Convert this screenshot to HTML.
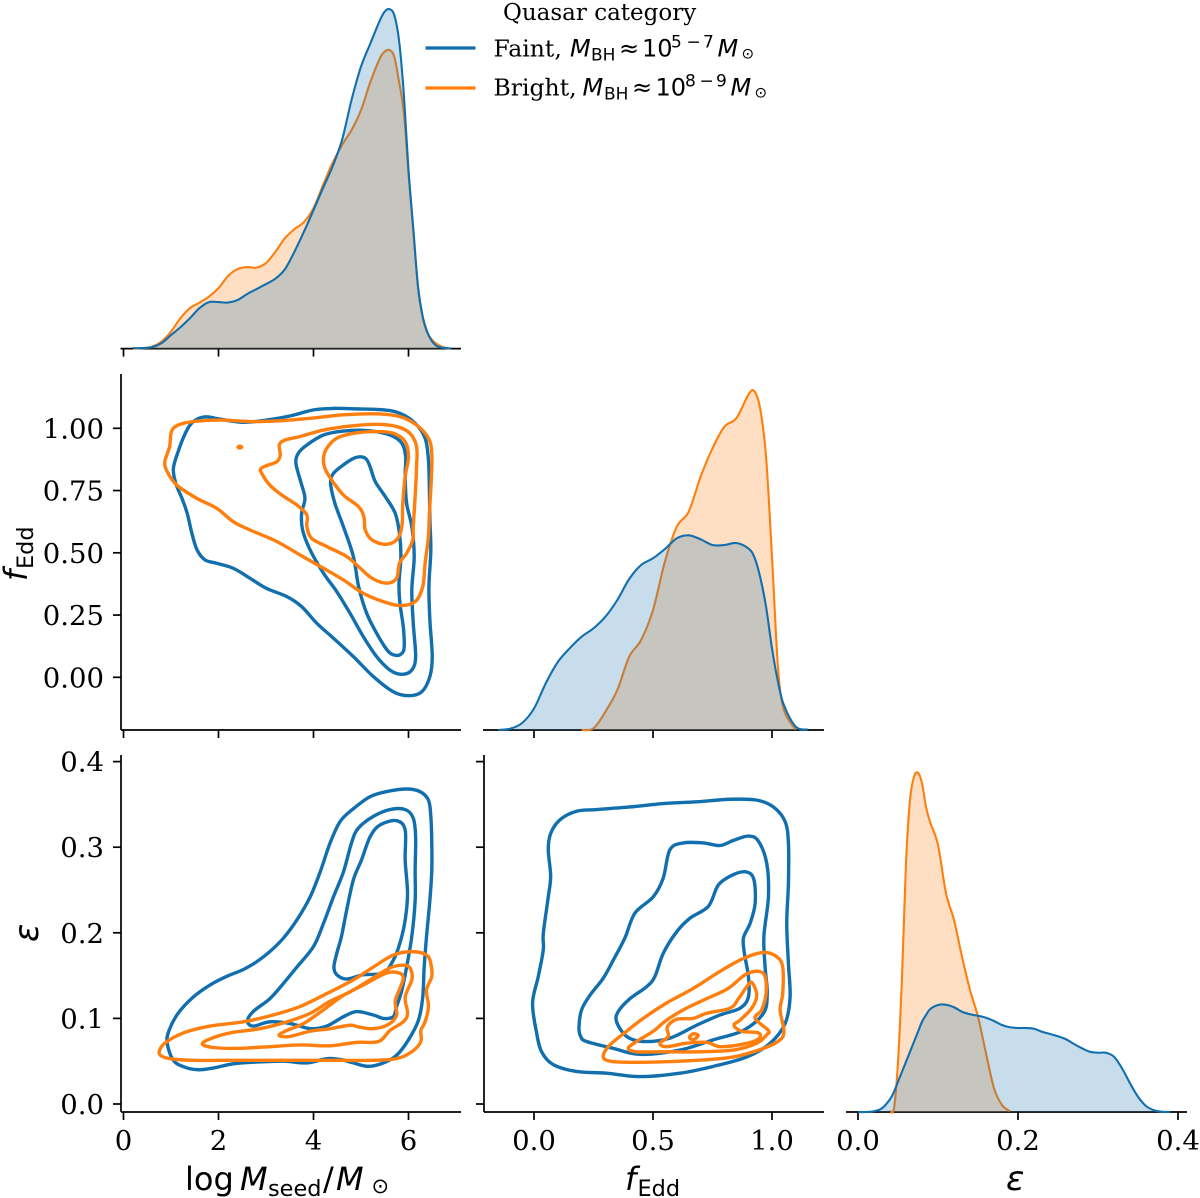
<!DOCTYPE html>
<html lang="en">
<head>
<meta charset="utf-8">
<title>Quasar category pair plot</title>
<style>
html,body{margin:0;padding:0;background:#fff;width:1200px;height:1198px;overflow:hidden}
svg{display:block}
.tick{font-family:"DejaVu Serif","Liberation Serif",serif;font-size:27.5px;fill:#000}
.leg{font-family:"DejaVu Serif","Liberation Serif",serif;font-size:23px;fill:#000}
.leg2{font-family:"DejaVu Serif","Liberation Serif",serif;font-size:23.5px;fill:#000}
.m{font-family:"DejaVu Sans","Liberation Sans",sans-serif;fill:#000}
.i{font-style:italic}
</style>
</head>
<body>
<svg id="chart" xmlns="http://www.w3.org/2000/svg" width="1200" height="1198" viewBox="0 0 1200 1198">
  <g id="marks"></g>

  <g>
    <text class="leg" x="503" y="20">Quasar category</text>
    <line x1="425.5" x2="475.5" y1="48" y2="48" stroke="#126fae" stroke-width="3.2"/>
    <text class="leg2" x="493.5" y="56.5">Faint,</text>
    <text class="m" y="56.5" font-size="24"><tspan class="i" x="570">M</tspan><tspan font-size="17" x="591" dy="4">BH</tspan><tspan x="619" dy="-4">≈</tspan><tspan x="642">10</tspan><tspan font-size="17" x="671" dy="-9">5</tspan><tspan font-size="17" x="686.5">−</tspan><tspan font-size="17" x="703">7</tspan><tspan class="i" x="717.5" dy="9">M</tspan><tspan font-size="15" x="741.5" dy="2">⊙</tspan></text>
    <line x1="425.5" x2="475.5" y1="88" y2="88" stroke="#ff7f0e" stroke-width="3.2"/>
    <text class="leg2" x="493.5" y="95.5">Bright,</text>
    <text class="m" y="95.5" font-size="24"><tspan class="i" x="582.5">M</tspan><tspan font-size="17" x="604" dy="4">BH</tspan><tspan x="632" dy="-4">≈</tspan><tspan x="655.5">10</tspan><tspan font-size="17" x="685" dy="-9">8</tspan><tspan font-size="17" x="699.5">−</tspan><tspan font-size="17" x="716">9</tspan><tspan class="i" x="730.5" dy="9">M</tspan><tspan font-size="15" x="754.5" dy="2">⊙</tspan></text>
  </g>

  <text class="m" y="1190" font-size="32"><tspan x="185">log</tspan><tspan class="i" x="240">M</tspan><tspan font-size="22.4" x="268" dy="6">seed</tspan><tspan x="323" dy="-6">/</tspan><tspan class="i" x="336">M</tspan><tspan font-size="21" x="371.5" dy="3">⊙</tspan></text>
  <text class="m" y="1190" font-size="32"><tspan class="i" x="625">f</tspan><tspan font-size="22.4" x="637.5" dy="6">Edd</tspan></text>
  <text class="m i" x="1006" y="1190" font-size="34">ε</text>
  <text class="m" transform="translate(27,581) rotate(-90)" font-size="32"><tspan class="i" x="0">f</tspan><tspan font-size="22.4" x="12" dy="6">Edd</tspan></text>
  <text class="m i" transform="translate(38,942) rotate(-90)" font-size="34">ε</text>
</svg>

<script>
/* ---------- tick labels ---------- */
const logMTicks = [0, 2, 4, 6];
const feddXTicks = [0, 0.5, 1];
const epsXTicks = [0, 0.2, 0.4];
const feddYTicks = [0, 0.25, 0.5, 0.75, 1];
const epsYTicks = [0, 0.1, 0.2, 0.3, 0.4];
const logMTickLabels = ['0', '2', '4', '6'];
const feddXTickLabels = ['0.0', '0.5', '1.0'];
const epsXTickLabels = ['0.0', '0.2', '0.4'];
const feddYTickLabels = ['0.00', '0.25', '0.50', '0.75', '1.00'];
const epsYTickLabels = ['0.0', '0.1', '0.2', '0.3', '0.4'];

/* ---------- 1-D densities ---------- */
const logMGrid = [0.2,0.4,0.6,0.8,1.0,1.2,1.4,1.6,1.8,2.0,2.2,2.4,2.6,2.8,3.0,3.2,3.4,3.6,3.8,4.0,4.2,4.4,4.6,4.8,5.0,5.2,5.4,5.5,5.6,5.7,5.8,5.9,6.0,6.1,6.2,6.3,6.4,6.5,6.6,6.7,6.8,6.9];
const logMFaint = [.001,.001,.003,.011,.027,.043,.061,.081,.093,.093,.092,.097,.109,.119,.129,.140,.159,.194,.234,.277,.321,.364,.417,.497,.564,.611,.657,.674,.679,.667,.617,.511,.357,.241,.124,.064,.032,.014,.005,.002,.001,0];
const logMBright = [0,.001,.004,.014,.034,.061,.081,.092,.104,.121,.145,.159,.163,.162,.171,.194,.221,.239,.253,.281,.327,.371,.407,.437,.477,.534,.581,.594,.597,.584,.534,.474,.351,.237,.124,.061,.031,.017,.009,.004,.001,0];

const feddGrid = [-.15,-.1,-.05,0,.05,.1,.15,.2,.25,.3,.35,.4,.45,.5,.55,.6,.65,.7,.75,.8,.85,.9,.925,.95,.975,1,1.025,1.05,1.1,1.15];
const feddFaint = [0,.013,.07,.215,.47,.68,.817,.933,1.017,1.133,1.300,1.510,1.650,1.717,1.810,1.917,1.947,1.907,1.850,1.850,1.870,1.817,1.733,1.533,1.233,.817,.483,.250,.033,.003];
const feddBright = [null,null,null,null,null,null,null,0,.017,.183,.400,.733,.900,1.200,1.683,2.033,2.183,2.533,2.817,3.033,3.117,3.350,3.390,3.217,2.733,1.733,.633,.200,.003,null];

const epsGrid = [0,.01,.02,.03,.04,.045,.05,.055,.06,.065,.07,.075,.08,.085,.09,.10,.11,.12,.13,.14,.15,.16,.17,.18,.19,.20,.21,.22,.23,.24,.25,.26,.27,.28,.29,.30,.31,.32,.33,.34,.35,.36,.37,.38,.39];
const epsFaint = [0,0,.03,.15,.51,.81,1.21,1.61,2.01,2.41,2.81,3.21,3.61,3.88,4.11,4.28,4.29,4.19,4.01,3.91,3.85,3.77,3.64,3.48,3.39,3.36,3.36,3.33,3.21,3.12,3.03,2.91,2.72,2.55,2.41,2.37,2.37,2.21,1.75,1.15,.61,.24,.07,.01,0];
const epsBright = [null,null,null,null,.03,.15,2.01,5.41,9.95,12.48,13.41,13.57,13.15,12.21,11.61,10.68,8.75,7.68,6.21,4.88,3.81,2.35,.95,.28,.03,null,null,null,null,null,null,null,null,null,null,null,null,null,null,null,null,null,null,null,null];

/* ---------- 2-D contours: f_Edd vs log M_seed ---------- */
const feddLogMFaint1 = [[1.40,1.013],[1.55,1.037],[1.75,1.046],[2.03,1.037],[2.52,1.024],[3.01,1.033],[3.54,1.051],[4.00,1.074],[4.42,1.080],[4.91,1.078],[5.47,1.074],[5.82,1.060],[6.14,1.020],[6.35,.960],[6.42,.873],[6.44,.752],[6.45,.632],[6.47,.511],[6.43,.364],[6.45,.230],[6.50,.083],[6.45,.003],[6.28,-.058],[6.00,-.074],[5.68,-.058],[5.26,.003],[4.84,.083],[4.42,.157],[4.07,.217],[3.75,.284],[3.44,.324],[3.01,.357],[2.66,.398],[2.31,.438],[1.96,.458],[1.72,.471],[1.55,.511],[1.44,.578],[1.34,.659],[1.23,.719],[1.10,.779],[1.05,.839],[1.15,.906],[1.27,.967]];
const feddLogMFaint2 = [[3.63,.859],[3.68,.900],[3.86,.933],[4.21,.973],[4.63,.989],[5.12,.991],[5.61,.973],[5.86,.940],[5.94,.886],[5.93,.806],[5.96,.699],[6.07,.605],[6.12,.485],[6.07,.351],[6.10,.217],[6.15,.083],[6.07,.029],[5.86,.012],[5.61,.029],[5.33,.083],[5.05,.163],[4.77,.257],[4.49,.344],[4.21,.418],[3.93,.511],[3.77,.592],[3.75,.659],[3.82,.719],[3.73,.786]];
const feddLogMFaint3 = [[4.36,.779],[4.42,.819],[4.63,.853],[4.88,.882],[5.09,.880],[5.19,.846],[5.30,.786],[5.51,.726],[5.72,.659],[5.81,.578],[5.84,.485],[5.80,.378],[5.82,.297],[5.89,.203],[5.91,.123],[5.86,.096],[5.74,.088],[5.58,.103],[5.37,.163],[5.12,.257],[4.95,.364],[4.84,.485],[4.63,.605],[4.45,.699]];
const feddLogMBright1 = [[.87,.866],[.97,.926],[1.01,.987],[1.15,1.013],[1.47,1.027],[2.03,1.033],[2.73,1.027],[3.37,1.031],[3.93,1.040],[4.63,1.054],[5.33,1.058],[5.82,1.047],[6.17,1.013],[6.42,.960],[6.49,.900],[6.48,.793],[6.44,.659],[6.42,.565],[6.35,.458],[6.30,.364],[6.14,.304],[5.82,.288],[5.47,.304],[5.05,.337],[4.63,.391],[4.21,.438],[3.72,.491],[3.23,.545],[2.66,.592],[2.31,.625],[1.96,.679],[1.54,.719],[1.12,.772],[.92,.826]];
const feddLogMBrightDot = [[2.41,.9245],[2.45,.928],[2.49,.9245],[2.45,.921]];
const feddLogMBright2 = [[2.89,.837],[3.01,.850],[3.23,.866],[3.30,.893],[3.28,.933],[3.40,.953],[3.72,.967],[4.21,.993],[4.77,1.009],[5.33,1.016],[5.75,1.007],[6.03,.980],[6.17,.926],[6.17,.846],[6.14,.726],[6.10,.605],[6.09,.552],[5.96,.498],[5.81,.458],[5.75,.398],[5.54,.378],[5.23,.398],[4.95,.444],[4.70,.485],[4.28,.525],[3.96,.558],[3.86,.605],[3.86,.652],[3.65,.692],[3.33,.732],[3.08,.772],[2.91,.819]];
const feddLogMBright3 = [[4.21,.880],[4.28,.920],[4.49,.960],[4.84,.980],[5.33,.987],[5.68,.980],[5.93,.946],[6.00,.886],[5.93,.806],[5.88,.699],[5.86,.605],[5.75,.552],[5.51,.534],[5.23,.552],[5.09,.592],[5.06,.645],[4.95,.685],[4.63,.732],[4.38,.793],[4.24,.839]];

/* ---------- 2-D contours: epsilon vs log M_seed ---------- */
const epsLogMFaint1 = [[.92,.071],[.96,.086],[1.15,.106],[1.47,.125],[1.82,.139],[2.17,.149],[2.52,.157],[2.80,.166],[3.08,.178],[3.37,.194],[3.65,.215],[3.93,.242],[4.14,.271],[4.35,.305],[4.56,.330],[4.84,.345],[5.19,.359],[5.54,.365],[5.96,.368],[6.24,.365],[6.42,.355],[6.47,.336],[6.49,.305],[6.49,.273],[6.45,.238],[6.38,.196],[6.33,.160],[6.30,.125],[6.21,.098],[6.00,.075],[5.75,.057],[5.47,.048],[5.15,.044],[4.84,.048],[4.56,.052],[4.28,.053],[3.86,.048],[3.37,.050],[2.80,.049],[2.31,.047],[1.89,.042],[1.58,.040],[1.29,.043],[1.05,.051]];
const epsLogMFaint2 = [[2.61,.097],[2.73,.108],[3.08,.123],[3.37,.141],[3.65,.160],[4.00,.184],[4.21,.211],[4.42,.242],[4.63,.271],[4.80,.305],[4.94,.322],[5.26,.336],[5.61,.344],[5.93,.344],[6.10,.334],[6.15,.312],[6.14,.273],[6.14,.238],[6.07,.196],[5.96,.160],[5.86,.133],[5.75,.114],[5.68,.102],[5.47,.100],[5.26,.104],[4.91,.108],[4.63,.102],[4.28,.091],[3.93,.088],[3.51,.094],[3.08,.096],[2.73,.091]];
const epsLogMFaint3 = [[4.43,.160],[4.49,.176],[4.59,.196],[4.70,.227],[4.84,.262],[5.01,.285],[5.19,.312],[5.40,.326],[5.75,.331],[5.93,.320],[5.93,.285],[5.98,.246],[5.93,.215],[5.82,.188],[5.68,.168],[5.47,.153],[5.05,.151],[4.70,.146],[4.49,.151]];
const epsLogMBright1 = [[.75,.061],[.87,.071],[1.26,.083],[1.82,.091],[2.52,.096],[3.15,.104],[3.72,.114],[4.28,.129],[4.84,.145],[5.26,.160],[5.68,.174],[6.07,.178],[6.38,.174],[6.47,.164],[6.49,.149],[6.38,.133],[6.42,.114],[6.35,.096],[6.26,.086],[6.26,.073],[6.07,.061],[5.75,.053],[5.26,.051],[4.63,.051],[4.07,.051],[3.44,.051],[2.80,.051],[2.10,.051],[1.47,.051],[.98,.053],[.80,.056]];
const epsLogMBright2 = [[1.66,.070],[1.82,.076],[2.24,.083],[2.87,.088],[3.44,.096],[3.93,.106],[4.35,.120],[4.77,.131],[5.19,.145],[5.61,.159],[5.93,.162],[6.05,.157],[6.07,.145],[5.93,.125],[5.98,.106],[5.89,.096],[5.61,.086],[5.37,.073],[4.91,.072],[4.35,.068],[3.72,.069],[3.08,.067],[2.38,.065],[1.89,.066]];
const epsLogMBright3 = [[3.28,.081],[3.44,.086],[3.79,.094],[4.21,.110],[4.63,.127],[5.05,.139],[5.54,.153],[5.81,.153],[5.89,.147],[5.82,.135],[5.72,.120],[5.75,.104],[5.58,.093],[5.26,.088],[4.95,.090],[4.77,.092],[4.35,.088],[3.93,.085],[3.51,.079],[3.33,.079]];

/* ---------- 2-D contours: epsilon vs f_Edd ---------- */
const epsFeddFaint1 = [[.060,.297],[.070,.316],[.109,.332],[.179,.342],[.263,.344],[.403,.347],[.543,.351],[.683,.353],[.824,.356],[.936,.355],[1.006,.347],[1.055,.330],[1.069,.305],[1.069,.258],[1.062,.211],[1.069,.164],[1.076,.125],[1.055,.094],[.992,.071],[.894,.055],[.754,.044],[.613,.036],[.445,.032],[.305,.036],[.179,.038],[.081,.046],[.032,.061],[.011,.083],[-.006,.118],[.018,.149],[.039,.180],[.039,.199],[.060,.242],[.070,.266]];
const epsFeddFaint2 = [[.189,.090],[.200,.110],[.235,.127],[.291,.147],[.333,.168],[.382,.194],[.424,.223],[.501,.242],[.543,.264],[.571,.297],[.627,.305],[.711,.305],[.782,.302],[.838,.308],[.901,.313],[.943,.307],[.978,.281],[.985,.242],[.966,.196],[.971,.160],[.980,.129],[.964,.106],[.880,.086],[.754,.075],[.613,.063],[.445,.058],[.333,.065],[.221,.073],[.196,.079]];
const epsFeddFaint3 = [[.347,.096],[.354,.108],[.403,.123],[.473,.137],[.508,.149],[.543,.176],[.599,.201],[.655,.217],[.733,.231],[.775,.256],[.838,.268],[.894,.271],[.924,.262],[.929,.234],[.908,.211],[.880,.194],[.884,.176],[.901,.149],[.901,.125],[.866,.112],[.782,.104],[.683,.092],[.571,.077],[.459,.073],[.389,.079]];
const epsFeddBright1 = [[.291,.057],[.319,.069],[.389,.085],[.459,.100],[.557,.118],[.669,.135],[.782,.155],[.880,.170],[.964,.177],[1.020,.172],[1.045,.160],[1.045,.129],[1.034,.110],[1.050,.086],[1.034,.075],[.964,.065],[.838,.055],[.683,.051],[.501,.049],[.361,.049],[.305,.051]];
const epsFeddBright2 = [[.396,.065],[.431,.073],[.501,.085],[.557,.098],[.641,.112],[.725,.123],[.816,.135],[.887,.151],[.943,.155],[.971,.149],[.975,.129],[.957,.110],[.929,.100],[.985,.086],[.978,.081],[.936,.071],[.838,.063],[.683,.061],[.529,.061],[.431,.061]];
const epsFeddBright3 = [[.529,.071],[.564,.079],[.560,.090],[.599,.099],[.669,.100],[.725,.106],[.824,.112],[.859,.123],[.894,.137],[.915,.142],[.936,.127],[.915,.112],[.866,.098],[.840,.092],[.873,.085],[.943,.083],[.943,.076],[.880,.070],[.782,.067],[.725,.072],[.641,.071],[.557,.067]];
const epsFeddBrightDot = [[.653,.078],[.669,.082],[.690,.080],[.669,.075]];

/* ---------- axis functions ---------- */
const xLogM = v => 123.5 + 47.5 * v;
const xFedd = v => 534 + 238 * v;
const xEps = v => 858 + 800 * v;
const yFedd = v => 677.3 - 249 * v;
const yEps = v => 1104 - 856 * v;
const densLogM = v => 348.6 - 500 * v;
const densFedd = v => 730 - 100 * v;
const densEps = v => 1112 - 25 * v;

const BLUE = '#126fae';
const ORANGE = '#ff7f0e';
const NS = 'http://www.w3.org/2000/svg';
const root = document.getElementById('marks');

function make(tag, parent, attrs) {
  const el = document.createElementNS(NS, tag);
  for (const k in attrs) el.setAttribute(k, attrs[k]);
  parent.appendChild(el);
  return el;
}
function splinePath(pts, closed) {
  const n = pts.length;
  const at = i => closed ? pts[(i + n) % n] : pts[Math.max(0, Math.min(n - 1, i))];
  let d = 'M' + pts[0][0].toFixed(2) + ' ' + pts[0][1].toFixed(2);
  const segs = closed ? n : n - 1;
  for (let i = 0; i < segs; i++) {
    const p0 = at(i - 1), p1 = at(i), p2 = at(i + 1), p3 = at(i + 2);
    const c1x = p1[0] + (p2[0] - p0[0]) / 6, c1y = p1[1] + (p2[1] - p0[1]) / 6;
    const c2x = p2[0] - (p3[0] - p1[0]) / 6, c2y = p2[1] - (p3[1] - p1[1]) / 6;
    d += 'C' + c1x.toFixed(2) + ' ' + c1y.toFixed(2) + ' ' + c2x.toFixed(2) + ' ' + c2y.toFixed(2) + ' ' + p2[0].toFixed(2) + ' ' + p2[1].toFixed(2);
  }
  return closed ? d + 'Z' : d;
}
function drawAxes(name, cfg) {
  const g = make('g', root, {});
  
  
  const sp = { stroke: '#000', 'stroke-width': 1.7, fill: 'none' };
  const bottom = make('line', g, Object.assign({ x1: cfg.x0, x2: cfg.x1, y1: cfg.y1, y2: cfg.y1 }, sp));
  
  
  cfg.xTicks.forEach((t, i) => {
    const px = cfg.xf(t);
    const tk = make('line', g, Object.assign({ x1: px, x2: px, y1: cfg.y1, y2: cfg.y1 + 8 }, sp));
    
    
    if (cfg.xLabels) {
      const lb = make('text', g, { x: px, y: cfg.y1 + 38, 'text-anchor': 'middle', class: 'tick' });
      lb.textContent = cfg.xLabels[i];
      
      
    }
  });
  if (cfg.yTicks) {
    const left = make('line', g, Object.assign({ x1: cfg.x0, x2: cfg.x0, y1: cfg.y0, y2: cfg.y1 }, sp));
    
    
    cfg.yTicks.forEach((t, i) => {
      const py = cfg.yf(t);
      const tk = make('line', g, Object.assign({ x1: cfg.x0 - 8, x2: cfg.x0, y1: py, y2: py }, sp));
      
      
      if (cfg.yLabels) {
        const lb = make('text', g, { x: cfg.x0 - 17, y: py + 10, 'text-anchor': 'end', class: 'tick' });
        lb.textContent = cfg.yLabels[i];
        
        
      }
    });
  }
  return g;
}
function drawDensity(group, name, grid, vals, xf, yf, color) {
  const pts = [];
  grid.forEach((g, i) => { if (vals[i] !== null) pts.push([xf(g), yf(vals[i])]); });
  const line = splinePath(pts, false);
  const fill = make('path', group, {
    d: line + 'L' + pts[pts.length - 1][0] + ' ' + yf(0) + 'L' + pts[0][0] + ' ' + yf(0) + 'Z',
    fill: color === BLUE ? '#1f77b4' : color, 'fill-opacity': 0.25, stroke: 'none'
  });
  
  
  const stroke = make('path', group, { d: line, fill: 'none', stroke: color, 'stroke-width': 2.1 });
  
  
}
function drawContour(group, name, data, xf, yf, color) {
  const pts = data.map(p => [xf(p[0]), yf(p[1])]);
  const c = make('path', group, { d: splinePath(pts, true), fill: 'none', stroke: color, 'stroke-width': 3.4, 'stroke-linejoin': 'round' });
  
  
}

/* ---------- panels ---------- */
const p11 = drawAxes('panel-logm-density', { x0: 120.5, x1: 461, y1: 348.6, y0: 348.6, xf: xLogM, xTicks: logMTicks });
drawDensity(p11, 'density-logm-bright', logMGrid, logMBright, xLogM, densLogM, ORANGE);
drawDensity(p11, 'density-logm-faint', logMGrid, logMFaint, xLogM, densLogM, BLUE);

const p21 = drawAxes('panel-fedd-vs-logm', { x0: 121, x1: 461, y0: 374, y1: 730, xf: xLogM, xTicks: logMTicks, yf: yFedd, yTicks: feddYTicks, yLabels: feddYTickLabels });
[feddLogMFaint1, feddLogMFaint2, feddLogMFaint3].forEach((c, i) => drawContour(p21, 'contour-fedd-logm-faint-' + (i + 1), c, xLogM, yFedd, BLUE));
[feddLogMBright1, feddLogMBrightDot, feddLogMBright2, feddLogMBright3].forEach((c, i) => drawContour(p21, 'contour-fedd-logm-bright-' + (i + 1), c, xLogM, yFedd, ORANGE));

const p22 = drawAxes('panel-fedd-density', { x0: 483, x1: 824, y1: 730, y0: 730, xf: xFedd, xTicks: feddXTicks });
drawDensity(p22, 'density-fedd-bright', feddGrid, feddBright, xFedd, densFedd, ORANGE);
drawDensity(p22, 'density-fedd-faint', feddGrid, feddFaint, xFedd, densFedd, BLUE);

const p31 = drawAxes('panel-eps-vs-logm', { x0: 121, x1: 461, y0: 755, y1: 1112, xf: xLogM, xTicks: logMTicks, xLabels: logMTickLabels, yf: yEps, yTicks: epsYTicks, yLabels: epsYTickLabels });
[epsLogMFaint1, epsLogMFaint2, epsLogMFaint3].forEach((c, i) => drawContour(p31, 'contour-eps-logm-faint-' + (i + 1), c, xLogM, yEps, BLUE));
[epsLogMBright1, epsLogMBright2, epsLogMBright3].forEach((c, i) => drawContour(p31, 'contour-eps-logm-bright-' + (i + 1), c, xLogM, yEps, ORANGE));

const p32 = drawAxes('panel-eps-vs-fedd', { x0: 484, x1: 824, y0: 755, y1: 1112, xf: xFedd, xTicks: feddXTicks, xLabels: feddXTickLabels, yf: yEps, yTicks: epsYTicks });
[epsFeddFaint1, epsFeddFaint2, epsFeddFaint3].forEach((c, i) => drawContour(p32, 'contour-eps-fedd-faint-' + (i + 1), c, xFedd, yEps, BLUE));
[epsFeddBright1, epsFeddBright2, epsFeddBright3, epsFeddBrightDot].forEach((c, i) => drawContour(p32, 'contour-eps-fedd-bright-' + (i + 1), c, xFedd, yEps, ORANGE));

const p33 = drawAxes('panel-eps-density', { x0: 846, x1: 1187, y1: 1112, y0: 1112, xf: xEps, xTicks: epsXTicks, xLabels: epsXTickLabels });
drawDensity(p33, 'density-eps-bright', epsGrid, epsBright, xEps, densEps, ORANGE);
drawDensity(p33, 'density-eps-faint', epsGrid, epsFaint, xEps, densEps, BLUE);
</script>
</body>
</html>
